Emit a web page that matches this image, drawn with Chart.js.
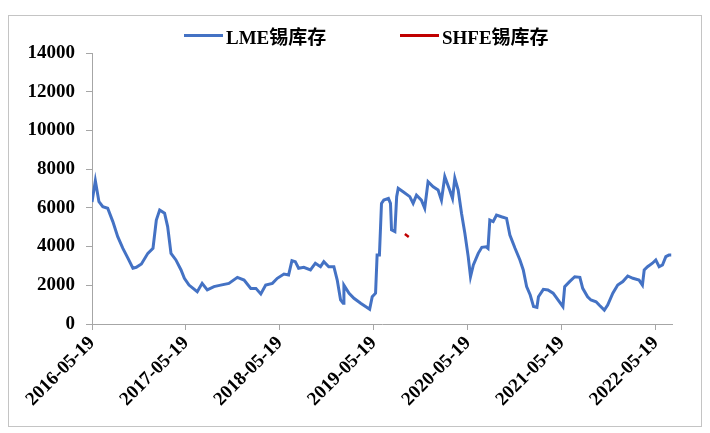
<!DOCTYPE html>
<html>
<head>
<meta charset="utf-8">
<script src="https://cdn.jsdelivr.net/npm/chart.js@4/dist/chart.umd.min.js"></script>
<style>
  body { margin: 0; background: #fff; }
  #frame { position: absolute; left: 8px; top: 15px; width: 694px; height: 412px; box-sizing: border-box; border: 1px solid #c4c4c4; }
  #box { position: absolute; left: 0; top: 0; width: 710px; height: 433px; }
  .legend { position: absolute; top: 22px; display: flex; align-items: center; font: bold 19px "Liberation Serif", "Noto Sans CJK SC", serif; color: #000; white-space: nowrap; }
  .legend span.line { display: inline-block; width: 39px; height: 3px; margin-right: 3px; }
</style>
</head>
<body>
<div id="frame"></div>
<div id="box"><canvas id="chart" width="710" height="433"></canvas></div>
<div class="legend" style="left:184px"><span class="line" style="background:#4472C4"></span>LME锡库存</div>
<div class="legend" style="left:400px"><span class="line" style="background:#C00000"></span>SHFE锡库存</div>
<script>
// LME tin stocks (tonnes)
const lmeDates = [
  '2016-05-19','2016-06-01','2016-06-15','2016-06-30','2016-07-19','2016-08-08','2016-08-27','2016-09-16',
  '2016-10-06','2016-10-25','2016-11-07','2016-11-27','2016-12-22','2017-01-11','2017-01-24','2017-02-06',
  '2017-02-25','2017-03-09','2017-03-22','2017-04-10','2017-04-30','2017-05-13','2017-05-31','2017-07-02',
  '2017-07-21','2017-08-10','2017-09-05','2017-10-01','2017-11-02','2017-12-05','2017-12-31','2018-01-26',
  '2018-02-15','2018-03-06','2018-03-25','2018-04-20','2018-05-09','2018-06-04','2018-06-22','2018-07-05',
  '2018-07-18','2018-07-31','2018-08-20','2018-09-15','2018-10-04','2018-10-24','2018-11-06','2018-11-25',
  '2018-12-15','2018-12-28','2019-01-10','2019-01-20','2019-01-23','2019-02-12','2019-03-03','2019-03-29',
  '2019-04-17','2019-05-03','2019-05-13','2019-05-26','2019-06-01','2019-06-10','2019-06-18','2019-06-27',
  '2019-07-15','2019-07-23','2019-07-27','2019-08-09','2019-08-16','2019-08-22','2019-09-10','2019-10-06',
  '2019-10-19','2019-11-01','2019-11-20','2019-12-03','2019-12-16','2020-01-05','2020-01-24','2020-02-06',
  '2020-02-19','2020-03-09','2020-03-20','2020-03-29','2020-04-11','2020-04-24','2020-05-07','2020-05-20',
  '2020-05-29','2020-06-09','2020-06-28','2020-07-12','2020-07-29','2020-08-05','2020-08-12','2020-08-25',
  '2020-09-07','2020-09-26','2020-10-16','2020-10-29','2020-11-18','2020-12-07','2020-12-20','2021-01-02',
  '2021-01-16','2021-01-29','2021-02-11','2021-02-17','2021-03-08','2021-03-26','2021-04-15','2021-05-04',
  '2021-05-23','2021-05-30','2021-06-18','2021-07-08','2021-07-28','2021-08-08','2021-08-27','2021-09-09',
  '2021-09-29','2021-10-11','2021-10-31','2021-11-13','2021-12-03','2021-12-22','2022-01-11','2022-01-30',
  '2022-02-19','2022-03-15','2022-03-28','2022-04-04','2022-04-17','2022-05-06','2022-05-19','2022-06-01',
  '2022-06-14','2022-06-27','2022-07-09','2022-07-18'
];
const lmeValues = [
  6300, 7400, 6320, 6060, 5980, 5290, 4510, 3910,
  3390, 2880, 2930, 3100, 3650, 3910, 5370, 5890,
  5720, 5030, 3650, 3310, 2790, 2360, 2010, 1670,
  2100, 1760, 1930, 2010, 2100, 2410, 2270, 1840,
  1840, 1550, 2010, 2100, 2360, 2580, 2530, 3270,
  3220, 2880, 2930, 2790, 3140, 2960, 3220, 2960,
  2960, 2270, 1240, 1070, 2010, 1590, 1330, 1070,
  900, 760, 1410, 1590, 3560, 3560, 6230, 6400,
  6490, 6230, 4860, 4770, 6580, 7010, 6830, 6580,
  6230, 6660, 6400, 5980, 7350, 7090, 6920, 6400,
  7610, 6920, 6490, 7530, 6920, 5720, 4690, 3480,
  2440, 3050, 3650, 3960, 3990, 3910, 5370, 5290,
  5630, 5540, 5460, 4600, 3910, 3310, 2790, 1930,
  1500, 900, 860, 1410, 1790, 1760, 1590, 1240,
  900, 1930, 2190, 2440, 2410, 1840, 1410, 1240,
  1150, 980, 720, 980, 1590, 2010, 2190, 2480,
  2360, 2270, 2010, 2790, 2960, 3140, 3310, 2960,
  3050, 3480, 3560, 3560
];

// SHFE tin stocks: only a short stretch shows
const shfeDates = ['2019-09-17', '2019-10-02'];
const shfeValues = [4650, 4500];

// x axis tick labels (one per year)
const tickLabels = ['2016-05-19','2017-05-19','2018-05-19','2019-05-19','2020-05-19','2021-05-19','2022-05-19'];
const lastDay = '2022-07-21';

const dayOf = s => (Date.parse(s) - Date.parse(tickLabels[0])) / 864e5;
const toPoints = (dates, values) => dates.map((d, i) => ({ x: dayOf(d), y: values[i] }));

const tickFont = { family: '"Liberation Serif", serif', size: 19, weight: 'bold' };
const axisGray = '#a6a6a6';

new Chart(document.getElementById('chart'), {
    type: 'line',
    data: {
        datasets: [
            {
                label: 'LME锡库存',
                data: toPoints(lmeDates, lmeValues),
                borderColor: '#4472C4',
                borderWidth: 3,
                pointRadius: 0,
                tension: 0
            },
            {
                label: 'SHFE锡库存',
                data: toPoints(shfeDates, shfeValues),
                borderColor: '#C00000',
                borderWidth: 2.5,
                pointRadius: 0,
                tension: 0
            }
        ]
    },
    options: {
        responsive: false,
        animation: false,
        layout: { padding: { left: 0, right: 38, top: 53, bottom: 0 } },
        plugins: { legend: { display: false }, tooltip: { enabled: false } },
        scales: {
            x: {
                type: 'linear',
                min: 0,
                max: dayOf(lastDay),
                afterBuildTicks: scale => { scale.ticks = tickLabels.map(t => ({ value: dayOf(t) })); },
                afterFit: scale => { scale.height = 109; },
                grid: { drawOnChartArea: false, drawTicks: true, tickLength: 6, color: axisGray },
                border: { color: axisGray, width: 1 },
                ticks: {
                    autoSkip: false,
                    maxRotation: 45,
                    minRotation: 45,
                    padding: 2,
                    color: '#000',
                    font: tickFont,
                    callback: (value, index) => tickLabels[index]
                }
            },
            y: {
                min: 0,
                max: 14000,
                afterFit: scale => { scale.width = 92; },
                grid: { drawOnChartArea: false, drawTicks: true, tickLength: 6, color: axisGray },
                border: { color: axisGray, width: 1 },
                ticks: { stepSize: 2000, padding: 11, color: '#000', font: tickFont, callback: v => String(v) }
            }
        }
    }
});
</script>
</body>
</html>
